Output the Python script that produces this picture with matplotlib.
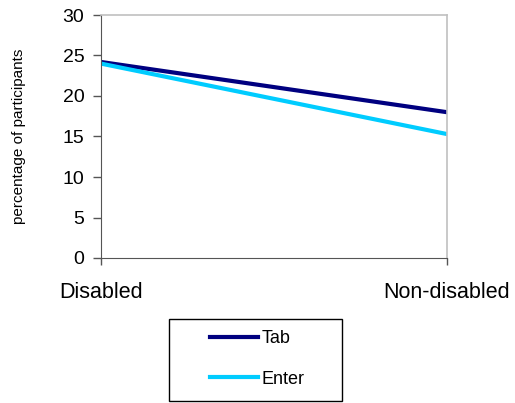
import matplotlib.pyplot as plt
from matplotlib.patches import Rectangle

plt.rcParams['font.family'] = ['Liberation Sans', 'DejaVu Sans']

groups = ["Disabled", "Non-disabled"]
tab = [24.2, 18.0]
enter = [24.0, 15.3]
yticks = [0, 5, 10, 15, 20, 25, 30]

fig = plt.figure(figsize=(5.15, 4.03), dpi=100)
ax = fig.add_axes([101/515, 1 - 258/403, 346/515, 243/403])

x = list(range(len(groups)))
ax.plot(x, tab, color='#000080', lw=3.0, label='Tab')
ax.plot(x, enter, color='#00CCFF', lw=3.0, label='Enter')

ax.set_xlim(0, 1)
ax.set_ylim(0, 30)
ax.set_yticks(yticks)
ax.set_xticks(x)
ax.set_xticklabels(groups, fontsize=15.5)
ax.tick_params(axis='y', labelsize=14, length=6, width=1, color='#555555', direction='out', pad=6)
ax.tick_params(axis='x', length=5, width=1, color='#555555', direction='out', pad=12)

for s in ['left', 'bottom']:
    ax.spines[s].set_color('#555555')
for s in ['top', 'right']:
    ax.spines[s].set_color('#c0c0c0')
    ax.spines[s].set_linewidth(1.2)

ax.set_ylabel('percentage of participants', fontsize=11)
ax.yaxis.set_label_coords(-0.218, 0.5)

# legend box below the axes
fig.patches.append(Rectangle((169/515, 2/403), 173/515, 82/403, transform=fig.transFigure,
                             fill=False, edgecolor='black', lw=1))
fig.legend(loc='center left', bbox_to_anchor=(194/515, 44/403), frameon=False,
           fontsize=13, handlelength=2.65, handletextpad=0.2, labelspacing=1.3)

fig.savefig('out.png', dpi=100)
